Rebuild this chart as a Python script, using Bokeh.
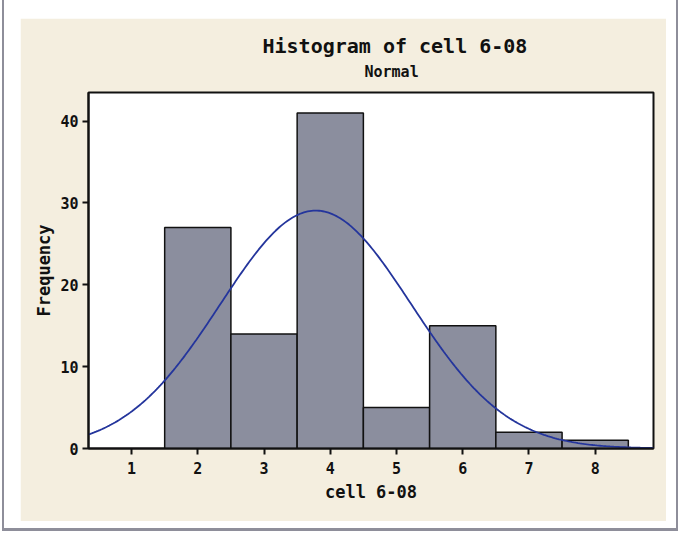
import numpy as np
from bokeh.plotting import figure
from bokeh.models import Title, FixedTicker, ColumnDataSource
from bokeh.layouts import column
from bokeh.embed import file_html
from bokeh.resources import INLINE

# ---- data ----
bin_centers = [2, 3, 4, 5, 6, 7, 8]
counts = [27, 14, 41, 5, 15, 2, 1]
bin_width = 1.0
x_ticks = [1, 2, 3, 4, 5, 6, 7, 8]
y_ticks = [0, 10, 20, 30, 40]
title_text = "Histogram of cell 6-08"
subtitle_text = "Normal"
x_label = "cell 6-08"
y_label = "Frequency"

# fitted normal curve (from the histogram data, as Minitab does)
c = np.array(bin_centers, dtype=float)
n = np.array(counts, dtype=float)
N = n.sum()
mu = (c * n).sum() / N
sd = np.sqrt(((c - mu) ** 2 * n).sum() / (N - 1))
xs = np.linspace(0.35, 8.88, 300)
ys = N * bin_width * np.exp(-0.5 * ((xs - mu) / sd) ** 2) / (sd * np.sqrt(2 * np.pi))

FONT = "DejaVu Sans Mono"
BEIGE = "#f4eedf"

p = figure(
    width=646, height=503,
    x_range=(0.35, 8.88), y_range=(0, 43.5),
    output_backend="svg", toolbar_location=None,
    min_border_left=68, min_border_right=13,
    min_border_top=74, min_border_bottom=73,
    background_fill_color="white", border_fill_color=BEIGE,
)
p.margin = (18, 10, 7, 16)

src = ColumnDataSource(dict(
    left=[x - bin_width / 2 for x in bin_centers],
    right=[x + bin_width / 2 for x in bin_centers],
    top=counts,
    bottom=[0] * len(counts),
))
p.quad(left="left", right="right", top="top", bottom="bottom", source=src,
       fill_color="#8b8e9e", line_color="#111111", line_width=1.5)
p.line(xs, ys, line_color="#24359c", line_width=1.8)

p.add_layout(Title(text=subtitle_text, align="left", offset=276,
                   text_font=FONT, text_font_size="15px",
                   text_font_style="bold", text_color="#111111", standoff=23), "above")
p.add_layout(Title(text=title_text, align="left", offset=174,
                   text_font=FONT, text_font_size="20px",
                   text_font_style="bold", text_color="#111111", standoff=-16), "above")

p.grid.visible = False
p.outline_line_color = "#111111"
p.outline_line_width = 2

for ax in (p.xaxis[0], p.yaxis[0]):
    ax.axis_line_width = 2
    ax.axis_line_color = "#111111"
    ax.major_tick_line_width = 2
    ax.major_tick_line_color = "#111111"
    ax.major_tick_out = 6
    ax.major_tick_in = 0
    ax.minor_tick_line_color = None
    ax.major_label_text_font = FONT
    ax.major_label_text_font_size = "15px"
    ax.major_label_text_font_style = "bold"
    ax.major_label_text_color = "#111111"
    ax.axis_label_text_font = FONT
    ax.axis_label_text_font_size = "17px"
    ax.axis_label_text_font_style = "bold"
    ax.axis_label_text_color = "#111111"

p.xaxis.ticker = FixedTicker(ticks=x_ticks)
p.yaxis.ticker = FixedTicker(ticks=y_ticks)
p.xaxis.axis_label = x_label
p.yaxis.axis_label = y_label
p.xaxis.major_label_standoff = 7
p.yaxis.major_label_standoff = 4
p.xaxis.axis_label_standoff = 5
p.yaxis.axis_label_standoff = 3

layout = column(p, styles={"border-left": "2px solid #8e8e9a",
                           "border-right": "2px solid #8e8e9a",
                           "border-bottom": "3px solid #8e8e9a",
                           "margin-left": "2px"})

open("out.html", "w").write(file_html(layout, INLINE))
